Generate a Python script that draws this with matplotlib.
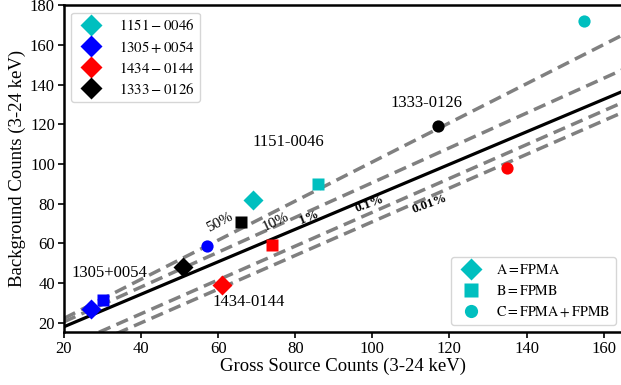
import matplotlib
matplotlib.use("Agg")
import matplotlib.pyplot as plt
from matplotlib.lines import Line2D

plt.rcParams['font.family'] = ['Liberation Serif', 'DejaVu Serif']
plt.rcParams['mathtext.fontset'] = 'stix'

# ---- data ----
sources = ['1151-0046', '1305+0054', '1434-0144', '1333-0126']
legend_names = [r'$\mathrm{1151-0046}$', r'$\mathrm{1305+0054}$',
                r'$\mathrm{1434-0144}$', r'$\mathrm{1333-0126}$']
colors = ['#00bfbf', '#0000ff', '#ff0000', '#000000']

gross_A = [69, 27, 61, 51]
bkg_A = [82, 27, 39, 48]
gross_B = [86, 30, 74, 66]
bkg_B = [90, 31.5, 59, 71]
gross_C = [155, 57, 135, 117]
bkg_C = [172, 58.5, 98, 119]

# probability lines: y values at x = 20 and x = 165
line_x = [20, 165]
line_50 = [22.2, 165.0]
line_10 = [20.5, 147.5]
line_1 = [18.0, 136.6]
line_01 = [7.5, 131.0]
line_001 = [3.0, 126.0]

fig = plt.figure(figsize=(6.21, 3.85), dpi=100)
ax = fig.add_axes([0.103, 0.1384, 0.9, 0.8484])

dash = dict(color='#808080', lw=2.5, ls=(0, (3.6, 1.9)))
ax.plot(line_x, line_50, **dash, zorder=1)
ax.plot(line_x, line_10, **dash, zorder=1)
ax.plot(line_x, line_01, **dash, zorder=1)
ax.plot(line_x, line_001, **dash, zorder=1)
ax.plot(line_x, line_1, color='black', lw=2.3, zorder=2)

for i in range(4):
    ax.plot(gross_A[i], bkg_A[i], 'D', color=colors[i], ms=10.5, mec='none', zorder=3)
    ax.plot(gross_B[i], bkg_B[i], 's', color=colors[i], ms=8.7, mec='none', zorder=3)
    ax.plot(gross_C[i], bkg_C[i], 'o', color=colors[i], ms=8.8, mec='none', zorder=3)

# source annotations
fs_ann = 12
ax.text(78.3, 111.0, '1151-0046', fontsize=fs_ann, ha='center', va='center')
ax.text(114.0, 130.5, '1333-0126', fontsize=fs_ann, ha='center', va='center')
ax.text(31.9, 45.2, '1305+0054', fontsize=fs_ann, ha='center', va='center')
ax.text(67.8, 30.6, '1434-0144', fontsize=fs_ann, ha='center', va='center')

# percent labels
ax.text(60.4, 70.4, '50%', fontsize=11, ha='center', va='center', rotation=28)
ax.text(75.0, 70.9, '10%', fontsize=11, ha='center', va='center', rotation=25)
ax.text(83.5, 73.1, '1%', fontsize=9.5, fontweight='bold', ha='center', va='center', rotation=22)
ax.text(99.4, 79.8, '0.1%', fontsize=9.5, fontweight='bold', ha='center', va='center', rotation=20)
ax.text(114.9, 79.8, '0.01%', fontsize=9.5, fontweight='bold', ha='center', va='center', rotation=20)

ax.set_xlim(20, 165)
ax.set_ylim(15.5, 180)
ax.set_xticks([20, 40, 60, 80, 100, 120, 140, 160])
ax.set_yticks([20, 40, 60, 80, 100, 120, 140, 160, 180])
ax.tick_params(labelsize=12, width=1.2, length=4, pad=2.5)
for s in ax.spines.values():
    s.set_linewidth(1.8)
ax.set_xlabel('Gross Source Counts (3-24 keV)', fontsize=13.5, labelpad=0.5)
ax.set_ylabel('Background Counts (3-24 keV)', fontsize=13.5, labelpad=3)

h1 = [Line2D([], [], marker='D', ls='none', color=c, ms=11, mec='none') for c in colors]
leg1 = ax.legend(h1, legend_names, loc='upper left', fontsize=10.7, numpoints=1,
                 labelspacing=0.4, borderpad=0.35, handletextpad=0.85)
ax.add_artist(leg1)

h2 = [Line2D([], [], marker=m, ls='none', color='#00bfbf', ms=ms, mec='none')
      for m, ms in (('D', 11), ('s', 9.5), ('o', 9.5))]
ax.legend(h2, [r'$\mathrm{A=FPMA}$', r'$\mathrm{B=FPMB}$', r'$\mathrm{C=FPMA+FPMB}$'],
          loc='lower right', fontsize=10.2, numpoints=1)

fig.savefig('out.png', dpi=100)
